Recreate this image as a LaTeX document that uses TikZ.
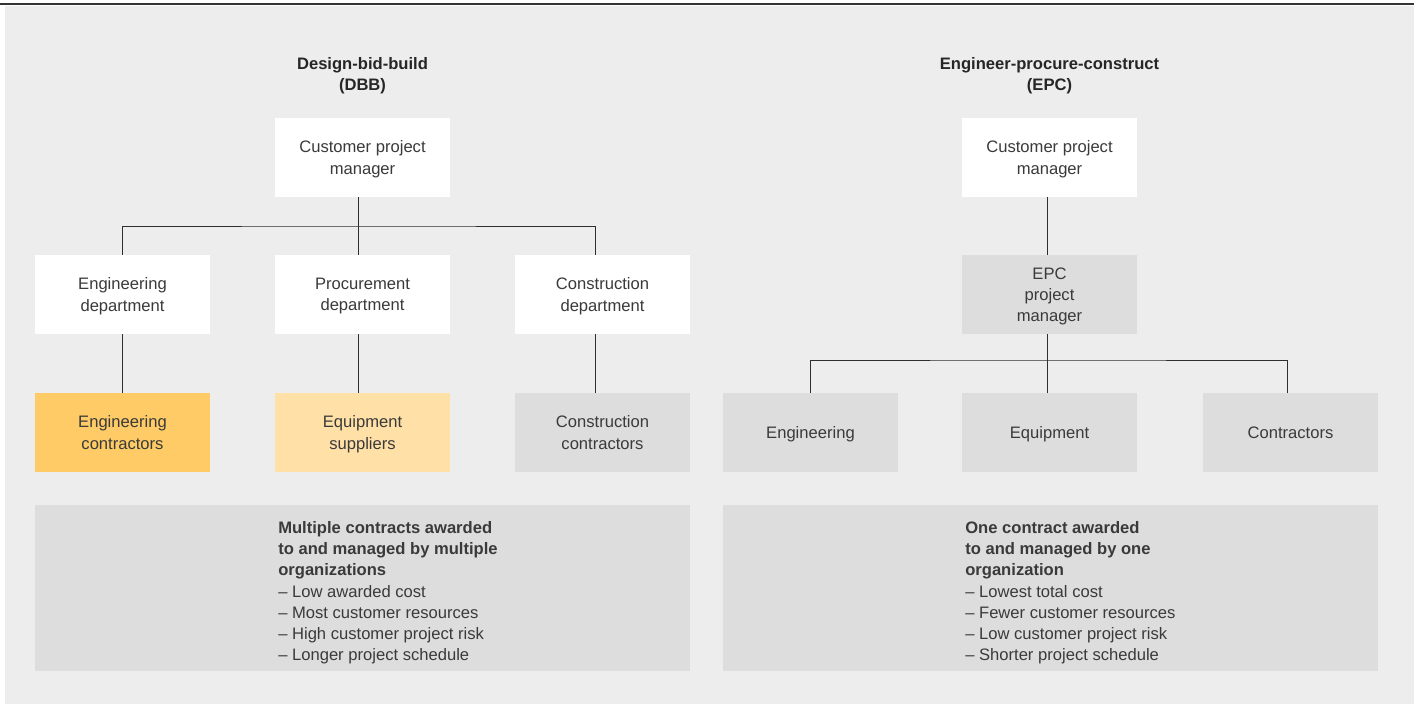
\documentclass[tikz,border=0pt]{standalone}
\usepackage{fontspec}
\setmainfont{Liberation Sans}
\usetikzlibrary{positioning}

\definecolor{bggray}{HTML}{ECEDEC}
\definecolor{boxgray}{HTML}{DCDDDC}
\definecolor{engorange}{HTML}{FFCB66}
\definecolor{equorange}{HTML}{FFE0A6}
\definecolor{txtgray}{HTML}{3A3A3A}
\definecolor{linegray}{HTML}{2E2E2E}

\tikzset{
  orgbox/.style={rectangle, fill=white, minimum width=4.375cm, minimum height=1.975cm,
    inner sep=0pt, align=center, text depth=0pt, text=txtgray,
    font=\fontsize{11.8}{15.1}\selectfont},
  graybox/.style={orgbox, fill=boxgray},
  sumbox/.style={rectangle, fill=boxgray, minimum width=16.375cm, minimum height=4.15cm, inner sep=0pt},
  sumtext/.style={align=left, inner sep=0pt, text=txtgray, font=\fontsize{11.8}{15.1}\selectfont},
  headline/.style={align=center, inner sep=0pt, text=black!85, font=\fontsize{11.8}{15.1}\selectfont\bfseries},
  orgline/.style={draw=linegray, line width=0.7pt}
}

\begin{document}
\begin{tikzpicture}[x=0.025cm, y=-0.025cm]
    \useasboundingbox (0,0) rectangle (1414,704);
    % background and top rule
    \fill[bggray] (5,6) rectangle (1414,704);
    \draw[black!80, line width=1.3pt] (0,4) -- (1414,4);

    % Design-bid-build
    \node[headline] (dbbTitle) at (362.5,75.5) {Design-bid-build\\(DBB)};
    \node[orgbox] (dbbPM) at (362.5,157.5) {Customer project\\manager};
    \node[orgbox] (engDept) at (122.5,294.5) {Engineering\\department};
    \node[orgbox] (procDept) at (362.5,294.5) {Procurement\\department};
    \node[orgbox] (conDept) at (602.5,294.5) {Construction\\department};
    \node[orgbox, fill=engorange] (engCon) at (122.5,432.5) {Engineering\\contractors};
    \node[orgbox, fill=equorange] (equSup) at (362.5,432.5) {Equipment\\suppliers};
    \node[graybox] (conCon) at (602.5,432.5) {Construction\\contractors};
    \coordinate (dbbBus) at (358.5,226);

    \draw[orgline] ([xshift=-0.1cm]dbbPM.south) -- ([xshift=-0.1cm]procDept.north);
    \draw[orgline] (engDept.north) |- (dbbBus) -| ([xshift=-0.175cm]conDept.north);
    \draw[orgline] (engDept) -- (engCon);
    \draw[orgline] ([xshift=-0.1cm]procDept.south) -- ([xshift=-0.1cm]equSup.north);
    \draw[orgline] ([xshift=-0.175cm]conDept.south) -- ([xshift=-0.175cm]conCon.north);

    \node[sumbox] (dbbSum) at (362.5,588) {};
    \node[sumtext, anchor=north west] (dbbText) at (278,521) {%
        \textbf{Multiple contracts awarded}\\
        \textbf{to and managed by multiple}\\
        \textbf{organizations}\\
        -- Low awarded cost\\
        -- Most customer resources\\
        -- High customer project risk\\
        -- Longer project schedule};

    % Engineer-procure-construct
    \node[headline] (epcTitle) at (1049.5,75.5) {Engineer-procure-construct\\(EPC)};
    \node[orgbox] (epcPM) at (1049.5,157.5) {Customer project\\manager};
    \node[graybox] (epcMgr) at (1049.5,294.5) {EPC\\project\\manager};
    \node[graybox] (eng) at (810.5,432.5) {Engineering};
    \node[graybox] (equ) at (1049.5,432.5) {Equipment};
    \node[graybox] (con) at (1290.5,432.5) {Contractors};
    \coordinate (epcBus) at (1047.5,360);

    \draw[orgline] ([xshift=-0.05cm]epcPM.south) -- ([xshift=-0.05cm]epcMgr.north);
    \draw[orgline] ([xshift=-0.05cm]epcMgr.south) -- ([xshift=-0.05cm]equ.north);
    \draw[orgline] (eng.north) |- (epcBus) -| ([xshift=-0.0875cm]con.north);

    \node[sumbox] (epcSum) at (1050.5,588) {};
    \node[sumtext, anchor=north west] (epcText) at (965,521) {%
        \textbf{One contract awarded}\\
        \textbf{to and managed by one}\\
        \textbf{organization}\\
        -- Lowest total cost\\
        -- Fewer customer resources\\
        -- Low customer project risk\\
        -- Shorter project schedule};
\end{tikzpicture}
\end{document}
